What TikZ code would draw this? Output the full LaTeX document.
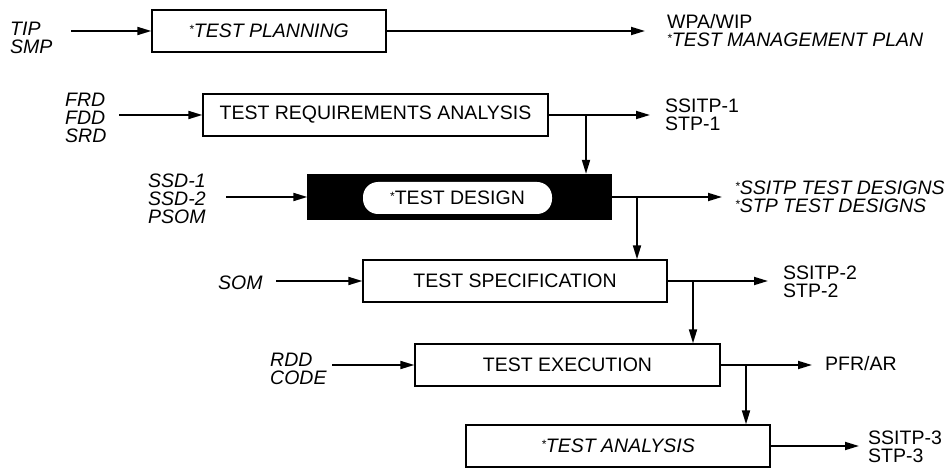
\documentclass[tikz,border=0pt]{standalone}
\usepackage{fontspec}
\setmainfont{Liberation Sans}
\usetikzlibrary{arrows.meta}

\newcommand{\bigtype}{\fontsize{19.5}{18}\selectfont}
\newcommand{\mk}{\raisebox{4pt}{\fontsize{12}{12}\selectfont *}}

\begin{document}
\begin{tikzpicture}[
    x=1pt, y=-1pt,
    font=\bigtype,
    stage/.style={rectangle, draw, line width=1.3pt, minimum height=42pt, inner sep=0pt},
    darkstage/.style={rectangle, draw, fill=black, line width=1.3pt, minimum height=45pt, inner sep=0pt},
    pill/.style={rectangle, fill=white, rounded corners=15pt, minimum height=32pt, minimum width=189pt, inner sep=0pt},
    doc/.style={align=left, inner sep=0pt, anchor=west},
    docit/.style={doc, font=\bigtype\itshape},
    arrow/.style={-{Triangle[length=14pt,width=8pt]}, line width=1.8pt}
]
\useasboundingbox (0,0) rectangle (945,470);

% stages
\node[stage, minimum width=234pt] (plan) at (269,31) {\itshape\mk TEST PLANNING};
\node[stage, minimum width=345pt] (req) at (375.5,115) {TEST REQUIREMENTS ANALYSIS};
\node[darkstage, minimum width=303pt] (design) at (459.5,197) {};
\node[pill] (pillbox) at (457.5,198) {\mk TEST DESIGN};
\node[stage, minimum width=304pt] (spec) at (515,281) {TEST SPECIFICATION};
\node[stage, minimum width=305pt] (exec) at (567.5,365) {TEST EXECUTION};
\node[stage, minimum width=304pt] (anal) at (618,446) {\itshape\mk TEST ANALYSIS};

% inputs
\node[docit] (in1) at (10,38) {TIP\\SMP};
\node[docit] (in2) at (65,118) {FRD\\FDD\\SRD};
\node[docit] (in3) at (148,199) {SSD-1\\SSD-2\\PSOM};
\node[docit] (in4) at (218,283) {SOM};
\node[docit] (in5) at (270,369) {RDD\\CODE};

% outputs
\node[doc] (out1) at (667,31) {WPA/WIP\\{\itshape\mk TEST MANAGEMENT PLAN}};
\node[doc] (out2) at (665,115) {SSITP-1\\STP-1};
\node[docit] (out3) at (735,197) {\mk SSITP TEST DESIGNS\\\mk STP TEST DESIGNS};
\node[doc] (out4) at (783,282) {SSITP-2\\STP-2};
\node[doc] (out5) at (825,364) {PFR/AR};
\node[doc] (out6) at (868,447) {SSITP-3\\STP-3};

\draw[arrow] ([xshift=-80pt]plan.west) -- (plan);
\draw[arrow] ([xshift=-83pt]req.west) -- (req);
\draw[arrow] ([xshift=-81pt]design.west) -- (design);
\draw[arrow] ([xshift=-86pt]spec.west) -- (spec);
\draw[arrow] ([xshift=-82pt]exec.west) -- (exec);

\draw[arrow, shorten >=22pt] (plan) -- (plan -| out1.west);
\draw[arrow, shorten >=15pt] (req) -- (req -| out2.west);
\draw[arrow, shorten >=13pt] (design) -- (design -| out3.west);
\draw[arrow, shorten >=15pt] (spec) -- (spec -| out4.west);
\draw[arrow, shorten >=13pt] (exec) -- (exec -| out5.west);
\draw[arrow, shorten >=9pt] (anal) -- (anal -| out6.west);

% hand-offs down the chain
\coordinate (j1) at (586,115);
\coordinate (j2) at (637,197);
\coordinate (j3) at (693,281);
\coordinate (j4) at (746,365);
\draw[arrow] (j1) -- (j1 |- design.north);
\draw[arrow] (j2) -- (j2 |- spec.north);
\draw[arrow] (j3) -- (j3 |- exec.north);
\draw[arrow] (j4) -- (j4 |- anal.north);
\end{tikzpicture}
\end{document}
